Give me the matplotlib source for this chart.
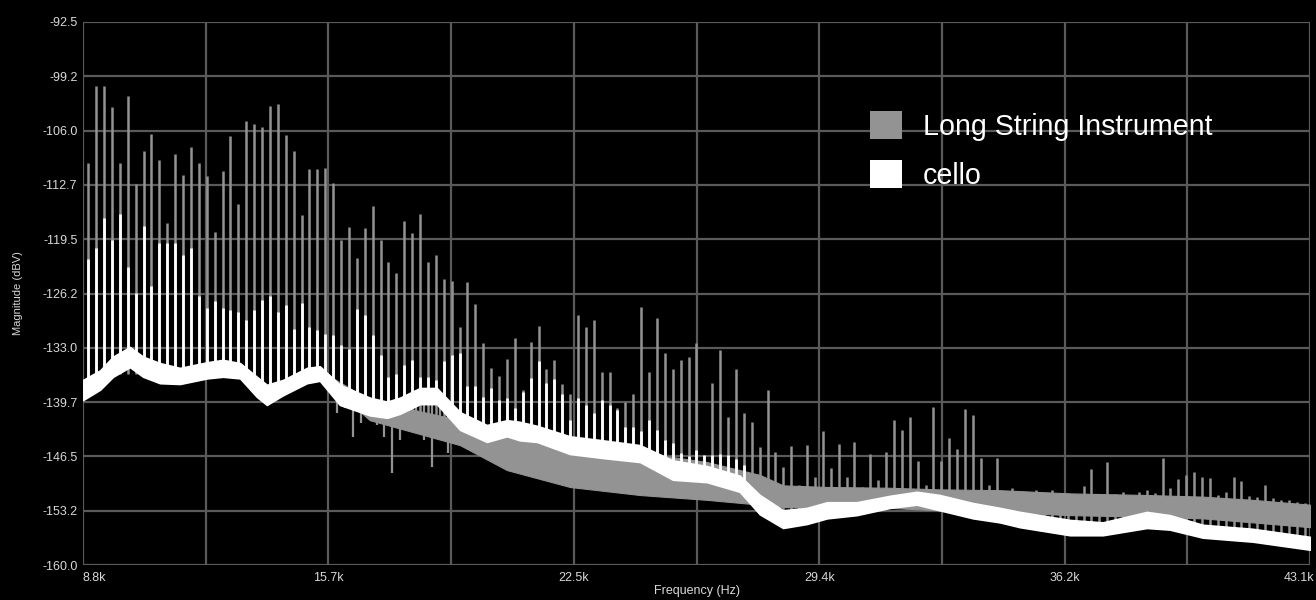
import numpy as np
import matplotlib
matplotlib.use('Agg')
import matplotlib.pyplot as plt
from matplotlib.patches import Patch
from matplotlib.transforms import ScaledTranslation

plt.rcParams['font.family'] = ['Liberation Sans', 'DejaVu Sans']

# harmonic comb seen in both spectra (kHz)
F_FIRST = 8.948
F_STEP = 0.2208

# Long String Instrument: peak level at each harmonic (dBV)
gray_peaks = [
    -110.0, -100.5, -100.5, -103.1, -110.0, -101.7, -112.6, -108.5, -106.4, -109.7,
    -117.5, -108.9, -111.5, -108.0, -110.0, -111.7, -118.6, -111.0, -106.7, -115.1,
    -104.8, -105.2, -105.6, -103.0, -102.7, -106.5, -108.5, -116.5, -110.8, -110.8,
    -110.6, -112.5, -119.6, -118.0, -121.8, -118.1, -115.4, -119.6, -122.3, -123.7,
    -117.2, -118.7, -116.4, -122.3, -121.5, -124.4, -124.7, -130.4, -124.8, -127.5,
    -132.4, -135.5, -136.5, -134.4, -131.8, -138.3, -132.3, -130.3, -135.6, -134.5,
    -137.5, -138.8, -128.9, -130.4, -129.6, -136.0, -136.0, -140.5, -139.7, -138.7,
    -127.9, -136.0, -129.3, -133.6, -135.6, -134.5, -134.2, -132.4, -146.5, -137.4,
    -133.3, -141.6, -135.6, -141.1, -142.2, -145.3, -138.2, -145.9, -147.8, -145.2,
    -150.1, -145.1, -149.0, -143.4, -148.0, -145.0, -149.0, -144.7, -150.3, -146.2,
    -149.4, -146.0, -142.0, -143.2, -141.6, -147.1, -150.0, -140.4, -147.1, -144.2,
    -145.6, -140.6, -141.4, -146.7, -150.1, -146.7, -151.3, -150.4, -150.9, -151.2,
    -150.7, -151.3, -150.7, -151.2, -151.1, -151.4, -150.2, -148.1, -151.3, -147.2,
    -151.2, -150.9, -151.3, -150.9, -150.7, -151.1, -146.7, -150.4, -149.3, -148.8,
    -148.5, -149.1, -149.2, -151.3, -150.9, -149.1, -149.6, -151.4, -151.5, -150.1,
    -151.7, -151.9, -151.9, -152.2, -152.3,
]

# Long String Instrument: valleys between harmonics 31..53 (dBV)
gray_dip_start = 31
gray_dips = [
    -141.1, -140.5, -144.1, -142.3, -141.6, -142.6, -144.1, -148.6, -144.5, -143.2,
    -142.0, -144.5, -147.8, -144.5, -146.1, -142.3, -142.8, -144.1, -146.1, -147.0,
    -146.1, -147.8, -146.1,
]

# cello: peak level at each harmonic (dBV)
white_peaks = [
    -122.0, -120.6, -116.9, -119.6, -116.4, -122.9, -126.2, -117.9, -125.3, -120.0,
    -120.0, -120.0, -121.5, -120.6, -126.6, -128.0, -127.2, -128.0, -128.3, -128.5,
    -129.5, -128.3, -127.1, -126.6, -128.5, -127.7, -130.7, -127.4, -130.4, -130.8,
    -131.3, -131.4, -132.7, -133.1, -128.2, -128.9, -131.4, -133.9, -136.6, -136.2,
    -135.1, -134.5, -136.6, -136.6, -137.0, -134.7, -133.9, -133.7, -137.8, -137.8,
    -139.1, -138.0, -139.5, -139.3, -140.5, -138.5, -136.8, -134.7, -137.4, -136.9,
    -138.7, -142.0, -139.3, -140.1, -141.1, -139.5, -140.1, -140.7, -142.8, -142.8,
    -143.4, -142.0, -143.2, -144.5, -144.8, -146.1, -146.5, -145.7, -146.3, -146.3,
    -146.2, -146.3, -146.8, -147.6,
]

# noise floor of the cello (kHz, upper and lower edge in dBV)
white_band_f = [8.80, 9.28, 9.64, 10.11, 10.48, 10.95, 11.51, 12.27, 12.71, 13.19,
                13.66, 13.94, 14.39, 15.06, 15.42, 15.98, 16.82, 17.30, 17.66, 18.22,
                18.69, 19.34, 20.09, 20.65, 21.01, 21.49, 22.41, 23.33, 24.37, 25.29,
                26.24, 27.16, 27.72, 28.37, 29.04, 29.60, 30.43, 31.36, 32.11, 32.75,
                33.68, 34.43, 34.99, 36.39, 37.31, 38.54, 39.18, 40.10, 41.50, 43.10]
white_band_hi = [-137.0, -135.8, -134.1, -132.9, -134.1, -134.9, -135.5, -134.8, -134.5, -134.9,
                 -136.6, -137.6, -137.0, -135.5, -135.3, -137.6, -139.2, -139.7, -139.2, -138.0,
                 -138.0, -141.0, -142.6, -142.0, -142.2, -142.7, -144.0, -144.5, -145.1, -147.0,
                 -147.7, -148.9, -151.3, -153.2, -152.9, -152.2, -152.2, -151.4, -150.9, -151.3,
                 -152.3, -152.9, -153.4, -154.4, -154.7, -153.4, -153.8, -155.0, -155.5, -156.5]
white_band_lo = [-139.5, -138.2, -136.6, -135.4, -136.6, -137.4, -137.5, -136.8, -136.6, -136.8,
                 -139.1, -140.1, -138.9, -137.4, -137.1, -140.1, -141.4, -141.7, -141.2, -140.0,
                 -140.0, -143.2, -144.7, -144.0, -144.5, -144.7, -146.2, -146.7, -147.2, -149.4,
                 -149.7, -150.9, -153.7, -155.4, -154.9, -154.2, -153.8, -152.9, -152.5, -153.2,
                 -154.2, -154.7, -155.3, -156.3, -156.3, -155.4, -155.6, -156.6, -157.1, -158.1]

# noise floor of the long string instrument (below ~15.4k it sits under the cello)
gray_band_f = [15.42, 16.82, 19.34, 20.65, 22.41, 24.37, 26.24, 27.72, 28.37,
               29.60, 31.36, 32.75, 34.43, 36.39, 38.54, 40.10, 41.50, 43.10]
gray_band_hi = [-135.8, -139.5, -142.0, -144.0, -145.1, -146.0, -147.2, -148.8, -150.1,
                -150.3, -150.4, -150.6, -150.7, -151.1, -151.3, -151.5, -151.9, -152.5]
gray_band_lo = [-136.6, -142.0, -145.1, -148.2, -150.3, -151.3, -151.9, -152.5, -152.8,
                -152.9, -152.9, -153.2, -153.4, -153.8, -154.0, -154.2, -154.7, -155.3]

x_ticks = [8.8, 12.23, 15.66, 19.09, 22.52, 25.95, 29.38, 32.81, 36.24, 39.67, 43.1]
x_labels = ['8.8k', '', '15.7k', '', '22.5k', '', '29.4k', '', '36.2k', '', '43.1k']
y_ticks = [-160.0, -153.25, -146.5, -139.75, -133.0, -126.25, -119.5, -112.75, -106.0, -99.25, -92.5]
y_labels = ['-160.0', '-153.2', '-146.5', '-139.7', '-133.0', '-126.2', '-119.5', '-112.7',
            '-106.0', '-99.2', '-92.5']

GRAY = '#939393'
WHITE = '#ffffff'
GRID = '#5a5a5a'
TXT = '#d8d8d8'

fig = plt.figure(figsize=(13.16, 6), dpi=100, facecolor='black')
ax = fig.add_axes([83 / 1316, 35 / 600, 1227 / 1316, 543 / 600])
ax.set_facecolor('black')

w_hi = np.array(white_band_hi)
w_lo = np.array(white_band_lo)
g_hi = np.array(gray_band_hi)
g_lo = np.array(gray_band_lo)

# long string instrument
ax.fill_between(gray_band_f, g_lo, g_hi, color=GRAY, lw=0.8, zorder=2)
harm_g = F_FIRST + F_STEP * np.arange(len(gray_peaks))
g_base = np.minimum(np.interp(harm_g, gray_band_f, (g_hi + g_lo) / 2),
                    np.interp(harm_g, white_band_f, (w_hi + w_lo) / 2))
ax.vlines(harm_g, g_base, gray_peaks, color=GRAY, lw=1.8, zorder=2)

dip_f = F_FIRST + F_STEP * (gray_dip_start + np.arange(len(gray_dips)) + 0.5)
dip_top = np.interp(dip_f, white_band_f, (w_hi + w_lo) / 2)
ax.vlines(dip_f, gray_dips, dip_top, color=GRAY, lw=1.6, zorder=2)

# cello on top
ax.fill_between(white_band_f, w_lo, w_hi, color=WHITE, lw=1.2, zorder=3)
harm_w = F_FIRST + F_STEP * np.arange(len(white_peaks))
w_base = np.interp(harm_w, white_band_f, (w_hi + w_lo) / 2)
ax.vlines(harm_w, w_base, white_peaks, color=WHITE, lw=2.0, zorder=3)

ax.set_xlim(8.8, 43.1)
ax.set_ylim(-160.0, -92.5)
ax.set_xticks(x_ticks)
ax.set_xticklabels(x_labels)
ax.set_yticks(y_ticks)
ax.set_yticklabels(y_labels)
ax.grid(True, color=GRID, lw=1.6, zorder=1)
ax.set_axisbelow(True)
for s in ax.spines.values():
    s.set_visible(False)
ax.tick_params(length=0, colors=TXT, labelsize=9)
ax.tick_params(axis='x', pad=5)
ax.tick_params(axis='y', pad=4)

xl = ax.get_xticklabels()
xl[0].set_ha('left')
xl[-1].set_transform(xl[-1].get_transform() + ScaledTranslation(-0.11, 0, fig.dpi_scale_trans))

ax.set_xlabel('Frequency (Hz)', color=TXT, fontsize=9)
ax.xaxis.set_label_coords(0.5, -0.037)
ax.set_ylabel('Magnitude (dBV)', color=TXT, fontsize=8)
ax.yaxis.set_label_coords(-0.049, 0.5)

handles = [Patch(facecolor=GRAY, edgecolor='none', label='Long String Instrument'),
           Patch(facecolor=WHITE, edgecolor='none', label='cello')]
leg = ax.legend(handles=handles, loc='upper left', bbox_to_anchor=(870 / 1316, 1 - 111 / 600),
                bbox_transform=fig.transFigure, frameon=False, borderpad=0, borderaxespad=0,
                handlelength=1.12, handleheight=1.12, handletextpad=0.72, labelspacing=0.68,
                prop={'family': 'Liberation Sans', 'size': 20.6})
for t in leg.get_texts():
    t.set_color(WHITE)

fig.savefig('out.png', dpi=100, facecolor='black')
